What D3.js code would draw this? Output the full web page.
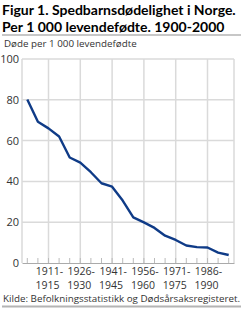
<!DOCTYPE html>
<html><head><meta charset="utf-8">
<script src="https://cdn.jsdelivr.net/npm/d3@7"></script>
<style>body{margin:0;background:#fff}svg{display:block}</style>
</head><body>
<script>
const categories = ["1901-1905","1906-1910","1911-1915","1916-1920","1921-1925","1926-1930","1931-1935","1936-1940","1941-1945","1946-1950","1951-1955","1956-1960","1961-1965","1966-1970","1971-1975","1976-1980","1981-1985","1986-1990","1991-1995","1996-2000"];
const values = [80.2,69.2,66.0,62.0,51.7,49.2,44.5,39.1,37.4,30.6,22.4,19.9,17.2,13.4,11.3,8.6,7.8,7.6,5.1,3.9];
const yTicks = [0,20,40,60,80,100];
const labelledCategories = ["1911-1915","1926-1930","1941-1945","1956-1960","1971-1975","1986-1990"];
const title = ["Figur 1. Spedbarnsdødelighet i Norge.","Per 1 000 levendefødte. 1900-2000"];
const yTitle = "Døde per 1 000 levendefødte";
const source = "Kilde: Befolkningsstatistikk og Dødsårsaksregisteret.";

const W=244,H=317;
const svg=d3.select("body").append("svg").attr("width",W).attr("height",H);
const font="'Open Sans', sans-serif";
const L=22,R=234,T=59,B=263;
const x=d3.scaleBand().domain(categories).range([L,R]);
const y=d3.scaleLinear().domain([0,100]).range([B,T]);
const cx=d=>x(d)+x.bandwidth()/2;

const tg=svg.append("text").attr("font-family","Lato, sans-serif").attr("font-weight","bold").attr("font-size",14).attr("fill","#000");
title.forEach((t,i)=>tg.append("tspan").attr("x",2).attr("y",15+i*17).text(t));
// fit first title line to the reference width
const first=tg.select("tspan").node();
const wFirst=first.getComputedTextLength();
if(wFirst>238){tg.attr("font-size",14*238/wFirst);}
svg.append("line").attr("x1",2).attr("x2",241).attr("y1",35).attr("y2",35).attr("stroke","#b4b4b4").attr("stroke-width",1.5);
svg.append("text").attr("x",4).attr("y",47).attr("font-family",font).attr("font-size",9.8).attr("fill","#333").text(yTitle);

const grid="#dadada";
svg.append("g").selectAll("line").data(yTicks.filter(d=>d>0)).join("line")
 .attr("x1",L).attr("x2",R).attr("y1",d=>y(d)).attr("y2",d=>y(d)).attr("stroke",grid).attr("stroke-width",1.5);
svg.append("g").selectAll("line").data(labelledCategories).join("line")
 .attr("x1",d=>cx(d)).attr("x2",d=>cx(d)).attr("y1",T).attr("y2",B).attr("stroke",grid).attr("stroke-width",1.5);
[L,R].forEach(v=>svg.append("line").attr("x1",v).attr("x2",v).attr("y1",T).attr("y2",B).attr("stroke",grid).attr("stroke-width",1.5));

const ya=svg.append("g").attr("transform",`translate(${L},0)`).call(d3.axisLeft(y).tickValues(yTicks).tickSize(0).tickPadding(3));
ya.select(".domain").remove();
ya.selectAll("text").attr("font-family",font).attr("font-size",11).attr("fill","#333");

const xa=svg.append("g").attr("transform",`translate(0,${B})`).call(d3.axisBottom(x).tickSizeInner(-5).tickSizeOuter(0).tickFormat(""));
xa.select(".domain").attr("stroke","#aaa");
xa.selectAll(".tick line").attr("stroke","#bbb");
const xl=svg.append("g").selectAll("text").data(labelledCategories).join("text")
 .attr("font-family",font).attr("font-size",10.5).attr("fill","#333").attr("text-anchor","middle");
xl.append("tspan").attr("x",d=>cx(d)+1).attr("y",B+12).text(d=>d.split("-")[0]+"-");
xl.append("tspan").attr("x",d=>cx(d)-1).attr("y",B+26).text(d=>d.split("-")[1]);

const line=d3.line().x((d,i)=>cx(categories[i])).y(d=>y(d));
svg.append("path").datum(values).attr("d",line).attr("fill","none").attr("stroke","#0f3b87").attr("stroke-width",2.4).attr("stroke-linejoin","round");

svg.append("text").attr("x",3).attr("y",302).attr("font-family",font).attr("font-size",9.8).attr("fill","#333").text(source);
svg.append("line").attr("x1",2).attr("x2",241).attr("y1",306.5).attr("y2",306.5).attr("stroke","#b4b4b4").attr("stroke-width",2);
</script>
</body></html>
